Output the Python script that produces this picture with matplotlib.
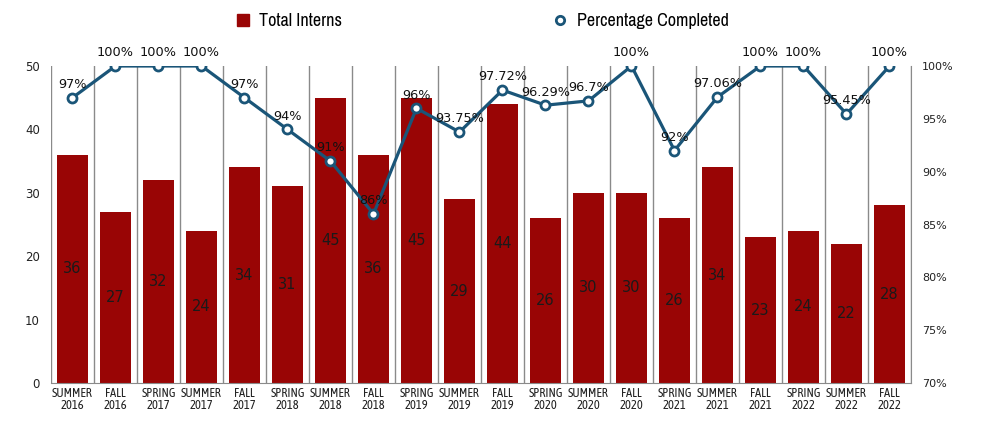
import matplotlib
matplotlib.use("Agg")
import matplotlib.pyplot as plt
from matplotlib.lines import Line2D
import numpy as np

categories = ["SUMMER\n2016", "FALL\n2016", "SPRING\n2017", "SUMMER\n2017", "FALL\n2017",
              "SPRING\n2018", "SUMMER\n2018", "FALL\n2018", "SPRING\n2019", "SUMMER\n2019",
              "FALL\n2019", "SPRING\n2020", "SUMMER\n2020", "FALL\n2020", "SPRING\n2021",
              "SUMMER\n2021", "FALL\n2021", "SPRING\n2022", "SUMMER\n2022", "FALL\n2022"]
interns = [36, 27, 32, 24, 34, 31, 45, 36, 45, 29, 44, 26, 30, 30, 26, 34, 23, 24, 22, 28]
pct = [97, 100, 100, 100, 97, 94, 91, 86, 96, 93.75, 97.72, 96.29, 96.7, 100, 92,
       97.06, 100, 100, 95.45, 100]
pct_labels = ["97%", "100%", "100%", "100%", "97%", "94%", "91%", "86%", "96%", "93.75%",
              "97.72%", "96.29%", "96.7%", "100%", "92%", "97.06%", "100%", "100%",
              "95.45%", "100%"]
left_ticks = [0, 10, 20, 30, 40, 50]
right_ticks = [70, 75, 80, 85, 90, 95, 100]

BAR = "#990505"
LINE = "#1a5578"
GRID = "#8a8a8a"
cond = ["Asap Condensed", "DejaVu Sans"]
narrow = ["Archivo Narrow", "DejaVu Sans"]

fig = plt.figure(figsize=(9.82, 4.21), dpi=100)
ax = fig.add_axes([51/982, 38/421, 860/982, 317/421])
ax2 = ax.twinx()

x = np.arange(len(categories))
ax.bar(x, interns, width=0.72, color=BAR, zorder=2)
for xi, v in zip(x, interns):
    ax.text(xi, v/2, str(v), ha="center", va="center", fontsize=10.5, color="#1a1a1a", zorder=3)

ax.set_xlim(-0.5, len(categories) - 0.5)
ax.set_ylim(0, 50)
ax.set_yticks(left_ticks)
for b in np.arange(-0.5, len(categories), 1.0):
    ax.axvline(b, color=GRID, lw=1, zorder=1)
for s in ["top", "right", "left"]:
    ax.spines[s].set_visible(False)
ax.spines["bottom"].set_color(GRID)
ax.set_xticks(x)
ax.set_xticklabels(categories, fontsize=9, family=cond, linespacing=0.9, color="#222222")
ax.tick_params(axis="both", length=0)
ax.tick_params(axis="y", labelsize=8.5, pad=8, labelcolor="#222222")
ax.tick_params(axis="x", pad=3)

ax2.plot(x, pct, color=LINE, lw=2.3, marker="o", markersize=6.5, markerfacecolor="white",
         markeredgecolor=LINE, markeredgewidth=2, zorder=4)
for xi, p, lab in zip(x, pct, pct_labels):
    ax2.annotate(lab, (xi, p), xytext=(0, 9.5), textcoords="offset points",
                 ha="center", va="center", fontsize=9.3, color="#111111", zorder=5)
ax2.set_ylim(70, 100)
ax2.set_yticks(right_ticks)
ax2.set_yticklabels([f"{t}%" for t in right_ticks])
ax2.tick_params(axis="y", length=0, labelsize=8, pad=8, labelcolor="#222222")
for s in ["top", "left", "bottom"]:
    ax2.spines[s].set_visible(False)
ax2.spines["right"].set_color(GRID)

handles = [Line2D([], [], ls="none", marker="s", markersize=9, color=BAR),
           Line2D([], [], ls="none", marker="o", markersize=6, markerfacecolor="white",
                  markeredgecolor=LINE, markeredgewidth=2)]
leg = fig.legend(handles, ["Total Interns", "Percentage Completed"], loc="upper center",
                 bbox_to_anchor=(0.49, 1.008), ncol=2, frameon=False, columnspacing=11.6,
                 handletextpad=0.4, handlelength=1.0, prop={"family": narrow, "size": 13})

fig.savefig("out.png", dpi=100)
